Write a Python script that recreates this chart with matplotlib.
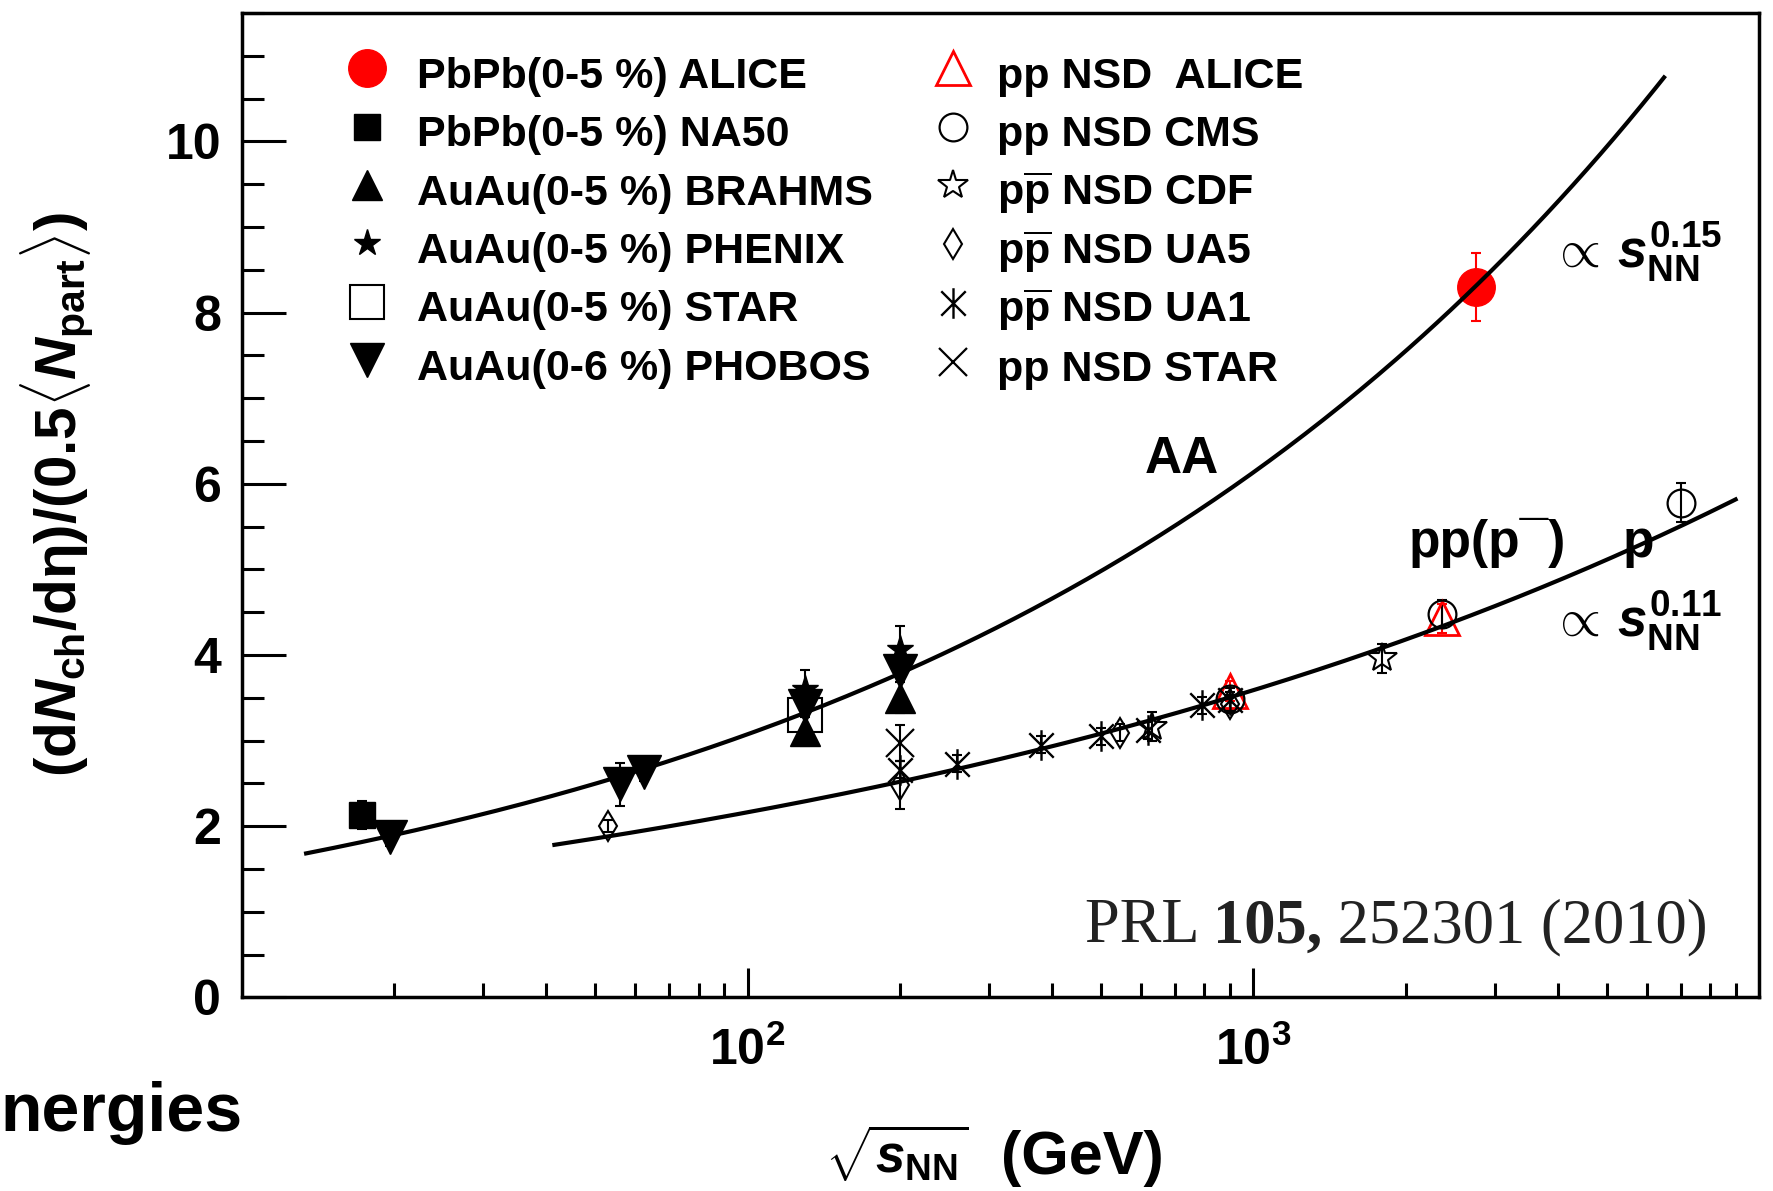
import numpy as np
import matplotlib
matplotlib.use("Agg")
import matplotlib.pyplot as plt
from matplotlib.path import Path
from matplotlib.ticker import FixedLocator, FixedFormatter, LogLocator, NullFormatter, MultipleLocator

plt.rcParams['font.family'] = ['Liberation Sans', 'DejaVu Sans']
plt.rcParams['font.weight'] = 'bold'
plt.rcParams['mathtext.fontset'] = 'custom'
plt.rcParams['mathtext.rm'] = 'Liberation Sans:bold'
plt.rcParams['mathtext.bf'] = 'Liberation Sans:bold'
plt.rcParams['mathtext.it'] = 'Liberation Sans:italic:bold'
plt.rcParams['mathtext.bfit'] = 'Liberation Sans:italic:bold'
plt.rcParams['mathtext.sf'] = 'Liberation Sans:bold'
plt.rcParams['mathtext.default'] = 'rm'

# ---- nucleus-nucleus, central collisions ----
alice_pbpb_x = [2760.]
alice_pbpb_y = [8.30]
alice_pbpb_e = [0.40]

na50_x = [17.3]
na50_y = [2.13]
na50_e = [0.16]

brahms_x = [130., 200.]
brahms_y = [3.11, 3.50]
brahms_e = [0.17, 0.18]

phenix_x = [130., 200.]
phenix_y = [3.60, 4.07]
phenix_e = [0.23, 0.27]

star_aa_x = [130.]
star_aa_y = [3.30]
star_aa_e = [0.15]

phobos_x = [19.6, 56., 62.4, 130., 200.]
phobos_y = [1.87, 2.49, 2.63, 3.40, 3.81]
phobos_e = [0.10, 0.25, 0.10, 0.12, 0.13]

# ---- pp / ppbar, NSD ----
alice_pp_x = [900., 2360.]
alice_pp_y = [3.58, 4.43]
alice_pp_e = [0.12, 0.17]

cms_x = [900., 2360., 7000.]
cms_y = [3.48, 4.48, 5.78]
cms_e = [0.13, 0.16, 0.23]

cdf_x = [630., 1800.]
cdf_y = [3.16, 3.96]
cdf_e = [0.17, 0.17]

ua5_x = [53., 200., 546., 900.]
ua5_y = [2.00, 2.48, 3.09, 3.43]
ua5_e = [0.07, 0.28, 0.10, 0.10]

ua1_x = [200., 260., 380., 500., 620., 790., 900.]
ua1_y = [2.66, 2.73, 2.95, 3.05, 3.12, 3.41, 3.47]
ua1_e = [0.10, 0.10, 0.10, 0.10, 0.10, 0.10, 0.10]

star_pp_x = [200.]
star_pp_y = [2.97]
star_pp_e = [0.21]

# power-law fits  dN/deta ~ norm * s^exp  (s = sqrt_s^2)
aa_norm, aa_exp, aa_range = 0.772, 0.15, (13.4, 6490.)
pp_norm, pp_exp, pp_range = 0.785, 0.11, (41.5, 8990.)

# asterisk marker: vertical bar plus an X
asterisk = Path([(0, -1), (0, 1), (-0.8, -0.8), (0.8, 0.8), (-0.8, 0.8), (0.8, -0.8)],
                [Path.MOVETO, Path.LINETO] * 3)

fig = plt.figure(figsize=(17.73, 11.91), dpi=100)
ax = fig.add_axes([0.1364, 0.1626, 0.8557, 0.8265])


def draw(x, y, e, label, ecol='black', **kw):
    ax.errorbar(x, y, yerr=e, fmt='none', ecolor=ecol, elinewidth=1.5,
                capsize=3.5, capthick=1.5, zorder=2)
    line, = ax.plot(x, y, linestyle='none', label=label, zorder=3, **kw)
    return line


RED = '#ff0000'
aa_handles = [
    draw(alice_pbpb_x, alice_pbpb_y, alice_pbpb_e, 'PbPb(0-5 %) ALICE', RED,
         marker='o', ms=27, color=RED, mec=RED),
    draw(na50_x, na50_y, na50_e, 'PbPb(0-5 %) NA50',
         marker='s', ms=19, color='black'),
    draw(brahms_x, brahms_y, brahms_e, 'AuAu(0-5 %) BRAHMS',
         marker='^', ms=21, color='black'),
    draw(phenix_x, phenix_y, phenix_e, 'AuAu(0-5 %) PHENIX',
         marker='*', ms=20, color='black'),
    draw(star_aa_x, star_aa_y, star_aa_e, 'AuAu(0-5 %) STAR',
         marker='s', ms=24, mfc='none', mec='black', mew=1.5),
    draw(phobos_x, phobos_y, phobos_e, 'AuAu(0-6 %) PHOBOS',
         marker='v', ms=24, color='black'),
]

pbar = r'p$\overline{\mathrm{p}}$'
pp_handles = [
    draw(alice_pp_x, alice_pp_y, alice_pp_e, 'pp NSD  ALICE', RED,
         marker='^', ms=25, mfc='none', mec=RED, mew=2.0),
    draw(cms_x, cms_y, cms_e, 'pp NSD CMS',
         marker='o', ms=20, mfc='none', mec='black', mew=1.6),
    draw(cdf_x, cdf_y, cdf_e, pbar + ' NSD CDF',
         marker='*', ms=22, mfc='none', mec='black', mew=1.5),
    draw(ua5_x, ua5_y, ua5_e, pbar + ' NSD UA5',
         marker='d', ms=15, mfc='none', mec='black', mew=1.5),
    draw(ua1_x, ua1_y, ua1_e, pbar + ' NSD UA1',
         marker=asterisk, ms=22, mfc='none', mec='black', mew=1.7),
    draw(star_pp_x, star_pp_y, star_pp_e, 'pp NSD STAR',
         marker='x', ms=20, mec='black', mew=1.6),
]

# fitted curves
xs = np.logspace(np.log10(aa_range[0]), np.log10(aa_range[1]), 300)
ax.plot(xs, aa_norm * (xs ** 2) ** aa_exp, color='black', lw=3, zorder=4)
xs = np.logspace(np.log10(pp_range[0]), np.log10(pp_range[1]), 300)
ax.plot(xs, pp_norm * (xs ** 2) ** pp_exp, color='black', lw=3, zorder=4)

# axes
ax.set_xscale('log')
ax.set_xlim(10, 1e4)
ax.set_ylim(0, 11.5)
ax.xaxis.set_major_locator(FixedLocator([100, 1000]))
ax.xaxis.set_major_formatter(FixedFormatter([r'$10^{2}$', r'$10^{3}$']))
ax.xaxis.set_minor_locator(LogLocator(base=10, subs=np.arange(2, 10)))
ax.xaxis.set_minor_formatter(NullFormatter())
ax.yaxis.set_major_locator(MultipleLocator(2))
ax.yaxis.set_minor_locator(MultipleLocator(0.5))
ax.tick_params(axis='both', which='both', direction='in', top=False, right=False, width=2.2)
ax.tick_params(axis='y', which='major', length=32, labelsize=36, pad=15)
ax.tick_params(axis='y', which='minor', length=16)
ax.tick_params(axis='x', which='major', length=21, labelsize=36, pad=21)
ax.tick_params(axis='x', which='minor', length=10)
for sp in ax.spines.values():
    sp.set_linewidth(2.5)

# legends (two columns); fixed handle height keeps the rows evenly spaced
leg_kw = dict(loc='upper left', frameon=False, fontsize=31, handlelength=1.2,
              handleheight=1.4, labelspacing=0.2, borderpad=0, borderaxespad=0,
              numpoints=1)
leg1 = ax.legend(handles=aa_handles, bbox_to_anchor=(0.0658, 0.9636),
                 handletextpad=0.54, **leg_kw)
ax.add_artist(leg1)
ax.legend(handles=pp_handles, bbox_to_anchor=(0.4516, 0.9636),
          handletextpad=0.42, **leg_kw)

# annotations
ax.text(0.5953, 0.5324, 'AA', transform=ax.transAxes, fontsize=37, va='baseline')
ax.text(0.7688, 0.4476, 'pp(p\u00af)', transform=ax.transAxes, fontsize=37, va='baseline')
ax.text(0.9104, 0.4476, 'p', transform=ax.transAxes, fontsize=37, va='baseline')
ax.text(0.862, 0.7406, r'$\propto\,\mathit{s}_{NN}^{0.15}$', transform=ax.transAxes,
        fontsize=38, va='baseline')
ax.text(0.862, 0.3663, r'$\propto\,\mathit{s}_{NN}^{0.11}$', transform=ax.transAxes,
        fontsize=38, va='baseline')

ref_kw = dict(fontfamily='Liberation Serif', fontsize=45, color='#222222')
t1 = ax.text(0.5556, 0.0559, 'PRL ', transform=ax.transAxes, fontweight='normal',
             va='baseline', **ref_kw)
t2 = ax.annotate('105,', xy=(1, 0), xycoords=t1, fontweight='bold', va='bottom', **ref_kw)
ax.annotate(' 252301 (2010)', xy=(1, 0), xycoords=t2, fontweight='normal', va='bottom', **ref_kw)

# axis titles
fig.text(0.0321, 0.5844, r'$(d\mathit{N}_{ch}/d\eta)/(0.5\langle\mathit{N}_{part}\rangle)$',
         rotation=90, ha='center', va='center', fontsize=42)
fig.text(0.4653, 0.0143, r'$\sqrt{\mathit{s}_{NN}}$', ha='left', va='baseline', fontsize=38)
fig.text(0.5644, 0.0143, '(GeV)', ha='left', va='baseline', fontsize=44)
fig.text(0.0, 0.0504, 'nergies', ha='left', va='baseline', fontsize=49)

fig.savefig('out.png', dpi=100)
